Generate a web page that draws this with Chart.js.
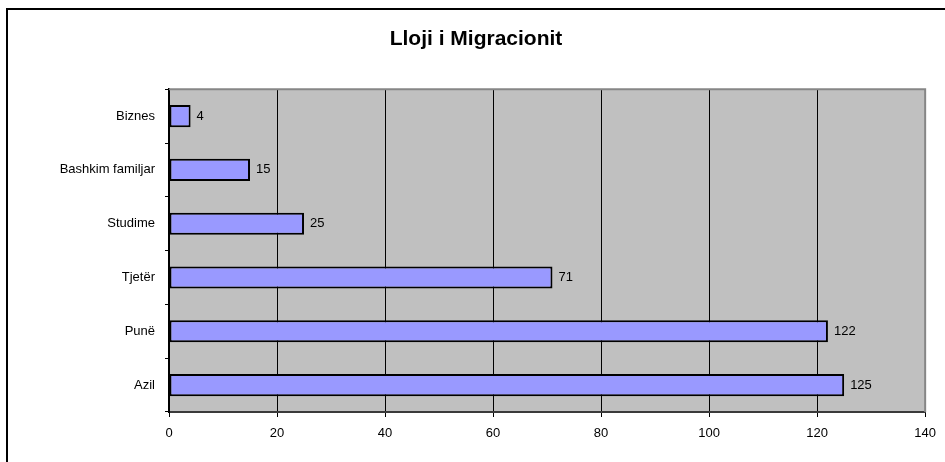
<!DOCTYPE html>
<html>
<head>
<title>Lloji i Migracionit</title>
<script src="https://cdn.jsdelivr.net/npm/chart.js@4.4.0/dist/chart.umd.min.js"></script>
<style>
body { margin: 0; background: #ffffff; }
#wrap { position: relative; width: 945px; height: 462px; }
</style>
</head>
<body>
<div id="wrap"><canvas id="bar1" width="945" height="462"></canvas></div>
<script>
var categories = ['Biznes', 'Bashkim familjar', 'Studime', 'Tjet\u00ebr', 'Pun\u00eb', 'Azil'];
var counts = [4, 15, 25, 71, 122, 125];
var xTicks = [0, 20, 40, 60, 80, 100, 120, 140];

var fontName = '"Liberation Sans", Arial, sans-serif';

// gray plot area + outer frame, like the old excel chart
var frame = {
  id: 'frame',
  beforeDraw: function (chart) {
    var c = chart.ctx, a = chart.chartArea;
    c.save();
    c.fillStyle = '#ffffff';
    c.fillRect(0, 0, chart.width, chart.height);
    c.strokeStyle = '#000000';
    c.lineWidth = 2;
    c.beginPath();
    c.moveTo(7, chart.height);
    c.lineTo(7, 9);
    c.lineTo(chart.width, 9);
    c.stroke();
    c.fillStyle = '#c0c0c0';
    c.fillRect(a.left, a.top, a.right - a.left, a.bottom - a.top);
    c.restore();
  },
  afterDraw: function (chart) {
    var c = chart.ctx, a = chart.chartArea;
    c.save();
    c.strokeStyle = '#868686';
    c.lineWidth = 2;
    c.beginPath();
    c.moveTo(a.left, a.top);
    c.lineTo(a.right, a.top);
    c.lineTo(a.right, a.bottom);
    c.stroke();
    c.restore();
  }
};

var valueLabels = {
  id: 'valueLabels',
  afterDatasetsDraw: function (chart) {
    var c = chart.ctx;
    var meta = chart.getDatasetMeta(0);
    c.save();
    c.font = '13px ' + fontName;
    c.fillStyle = '#000000';
    c.textAlign = 'left';
    c.textBaseline = 'middle';
    meta.data.forEach(function (bar, i) {
      c.fillText(String(counts[i]), bar.x + 6, bar.y);
    });
    c.restore();
  }
};

var ctx = document.getElementById('bar1').getContext('2d');
var chart = new Chart(ctx, {
  type: 'bar',
  data: {
    labels: categories,
    datasets: [{
      data: counts,
      backgroundColor: '#9999ff',
      borderColor: '#000000',
      borderWidth: 2,
      borderSkipped: false,
      barPercentage: 0.41,
      categoryPercentage: 1
    }]
  },
  options: {
    indexAxis: 'y',
    responsive: false,
    animation: false,
    layout: { padding: { left: 24, right: 17, top: 0, bottom: 0 } },
    plugins: {
      legend: { display: false },
      tooltip: { enabled: false },
      title: {
        display: true,
        text: 'Lloji i Migracionit',
        color: '#000000',
        font: { family: fontName, size: 21, weight: 'bold' },
        padding: { top: 27, bottom: 37 }
      }
    },
    scales: {
      x: {
        min: 0,
        max: 140,
        afterBuildTicks: function (scale) {
          scale.ticks = xTicks.map(function (v) { return { value: v }; });
        },
        afterFit: function (scale) { scale.height = 50; },
        grid: { color: '#000000', lineWidth: 1, tickLength: 5, tickColor: '#000000' },
        border: { color: '#3a3a3a', width: 2 },
        ticks: { color: '#000000', padding: 9, font: { family: fontName, size: 13 } }
      },
      y: {
        afterFit: function (scale) { scale.width = 145; },
        grid: { drawOnChartArea: false, offset: true, tickLength: 4, color: '#000000' },
        border: { color: '#000000', width: 2 },
        ticks: { color: '#000000', padding: 10, font: { family: fontName, size: 13 } }
      }
    }
  },
  plugins: [frame, valueLabels]
});
</script>
</body>
</html>
